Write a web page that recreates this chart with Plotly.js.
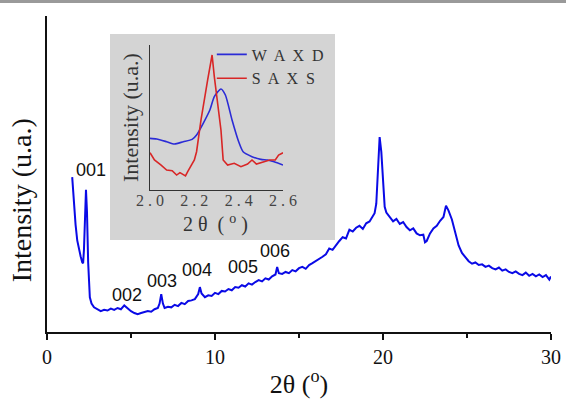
<!DOCTYPE html>
<html>
<head>
<meta charset="utf-8">
<script src="https://cdn.plot.ly/plotly-3.0.1.min.js"></script>
<style>
html,body{margin:0;padding:0;background:#fff;}
#chart{width:566px;height:404px;}
</style>
</head>
<body>
<div id="chart"></div>
<script>
// ---- main XRD pattern (2θ in degrees, intensity in arbitrary units) ----
const twoTheta = [1.5,1.6,1.7,1.8,1.9,2.0,2.1,2.15,2.2,2.25,2.32,2.38,2.45,2.55,2.65,2.8,3.0,3.2,3.4,3.6,3.8,4.0,4.2,4.4,4.6,4.8,5.0,5.2,5.4,5.6,5.8,6.0,6.2,6.4,6.6,6.7,6.8,6.9,7.0,7.2,7.4,7.6,7.8,8.0,8.2,8.4,8.6,8.8,9.0,9.1,9.2,9.4,9.6,9.8,10.0,10.2,10.4,10.6,10.8,11.0,11.2,11.4,11.6,11.8,12.0,12.2,12.4,12.6,12.8,13.0,13.2,13.4,13.6,13.7,13.8,14.0,14.2,14.4,14.6,14.8,15.0,15.2,15.4,15.6,15.8,16.0,16.2,16.4,16.6,16.8,17.0,17.2,17.4,17.6,17.8,18.0,18.2,18.4,18.6,18.8,19.0,19.2,19.4,19.5,19.6,19.7,19.8,19.9,20.0,20.1,20.2,20.4,20.6,20.8,21.0,21.2,21.4,21.6,21.8,22.0,22.2,22.4,22.5,22.6,22.8,23.0,23.2,23.4,23.6,23.75,23.9,24.1,24.3,24.5,24.7,24.9,25.1,25.3,25.5,25.7,25.9,26.1,26.3,26.5,26.7,26.9,27.1,27.3,27.5,27.7,27.9,28.1,28.3,28.5,28.7,28.9,29.1,29.3,29.5,29.7,29.9,30.0];
const intensity = [49,40,34,29,26,24,22,21.8,26,36,45,38,22,11,9,7.8,7.2,6.6,7.0,6.8,7.4,7.0,7.6,7.2,8.4,7.4,6.6,6.0,5.6,6.0,6.2,6.6,6.4,7.2,7.6,9.0,12.0,9.0,7.6,8.0,7.8,8.6,8.2,9.2,8.8,9.8,10.0,10.4,12.0,14.2,12.2,11.0,11.6,11.4,12.4,12.0,13.0,12.8,13.6,13.2,14.2,14.0,14.8,14.4,15.4,15.0,15.8,16.4,16.0,17.0,16.6,17.6,18.2,20.6,18.6,18.4,19.0,18.6,19.6,19.2,20.2,20.6,20.0,21.2,21.8,22.4,23.2,23.8,24.6,26.4,26.0,27.6,28.8,30.0,29.6,32.4,31.8,33.0,33.6,32.6,34.4,35.0,36.8,37.6,40.6,52.0,61.7,57.0,46.0,39.6,37.8,36.2,35.0,35.8,34.2,34.8,33.2,32.2,32.8,31.2,30.6,30.8,28.4,28.8,31.2,32.8,33.6,35.2,36.4,40.0,38.4,35.6,31.0,27.4,25.0,23.6,22.4,21.6,22.0,21.2,21.4,20.6,21.0,20.2,19.8,20.4,19.4,19.8,19.0,18.6,19.2,18.4,18.0,18.8,17.8,18.4,17.6,18.2,17.4,18.0,16.6,17.6];

// ---- reflection labels ----
const peakLabels = ["001","002","003","004","005","006"];
const peakLabelX = [2.6,4.76,6.85,8.93,11.67,13.57];
const peakLabelY = [51.3,11.7,16.1,19.6,20.6,25.6];

// ---- inset: WAXD vs SAXS around the 001 reflection ----
const insetWaxdX = [2.0,2.03,2.075,2.11,2.15,2.19,2.21,2.24,2.27,2.29,2.32,2.34,2.37,2.40,2.42,2.46,2.50,2.53,2.56,2.6];
const insetWaxdY = [35.6,35.2,33.3,31.7,33.3,34.9,37.9,46.0,55.2,64.4,69.7,65.5,48.3,33.3,26.4,23.0,21.1,20.7,19.5,17.2];
const insetSaxsX = [2.0,2.02,2.05,2.075,2.10,2.12,2.135,2.16,2.17,2.20,2.21,2.23,2.26,2.28,2.29,2.32,2.33,2.35,2.38,2.41,2.44,2.46,2.48,2.51,2.54,2.565,2.58,2.6];
const insetSaxsY = [25.7,20.7,17.2,13.8,13.3,10.3,12.0,9.7,12.6,20.7,26.4,48.3,75.9,93.1,78.2,41.4,20.7,17.2,18.4,16.1,17.9,20.7,17.9,19.5,20.7,20.7,24.1,25.7];
const insetTickVals = [2.0,2.2,2.4,2.6];
const insetTickText = ["2 . 0","2 . 2","2 . 4","2 . 6"];
const seriesNames = ["W  A  X  D","S  A  X  S"];

const serif = "Liberation Serif";
const sans = "Liberation Sans";

const traces = [
  {x: twoTheta, y: intensity, type: "scatter", mode: "lines", xaxis: "x", yaxis: "y",
   line: {color: "#0a0ae6", width: 2}, showlegend: false, hoverinfo: "skip"},
  {x: insetWaxdX, y: insetWaxdY, type: "scatter", mode: "lines", xaxis: "x2", yaxis: "y2",
   name: seriesNames[0], line: {color: "#2b2bd6", width: 1.6, shape: "spline", smoothing: 0.6}},
  {x: insetSaxsX, y: insetSaxsY, type: "scatter", mode: "lines", xaxis: "x2", yaxis: "y2",
   name: seriesNames[1], line: {color: "#d82626", width: 1.6}}
];

const annotations = peakLabels.map((t, i) => ({
  x: peakLabelX[i], y: peakLabelY[i], xref: "x", yref: "y", text: t, showarrow: false,
  font: {family: sans, size: 18, color: "#111"}
}));
// main y-axis title (sits below the axis centre in the reference)
annotations.push({x: -0.05, y: 0.416, xref: "paper", yref: "paper", xanchor: "center", yanchor: "middle",
  text: "Intensity (u.a.)", textangle: -90, showarrow: false,
  font: {family: serif, size: 28, color: "#111"}});
// inset x-axis title
annotations.push({x: 0.335, y: 0.343, xref: "paper", yref: "paper", xanchor: "center", yanchor: "middle",
  text: "2 θ  ( <sup>o</sup> )", showarrow: false,
  font: {family: serif, size: 20, color: "#333"}});

const layout = {
  width: 566, height: 404,
  margin: {l: 47, r: 15, t: 16, b: 72},
  paper_bgcolor: "#ffffff",
  plot_bgcolor: "rgba(0,0,0,0)",
  showlegend: true,
  legend: {x: 0.327, y: 0.932, xanchor: "left", yanchor: "top", bgcolor: "rgba(0,0,0,0)",
           font: {family: serif, size: 16, color: "#333"}, itemwidth: 30, tracegroupgap: 0},
  xaxis: {domain: [0, 1], range: [0, 30], tickvals: [0, 10, 20, 30], ticks: "outside", ticklen: 6, tickwidth: 2,
          tickcolor: "#111", showline: true, linecolor: "#111", linewidth: 2, showgrid: false, zeroline: false,
          minor: {tickvals: [5, 15, 25], ticks: "outside", ticklen: 4, tickwidth: 2, tickcolor: "#111", showgrid: false},
          tickfont: {family: serif, size: 20, color: "#111"},
          title: {text: "2θ (<sup>o</sup>)", font: {family: serif, size: 26, color: "#111"}, standoff: 8},
          anchor: "y", fixedrange: true},
  yaxis: {domain: [0, 1], range: [0, 100], showticklabels: false, ticks: "", showline: true, linecolor: "#111",
          linewidth: 2, showgrid: false, zeroline: false, anchor: "x", fixedrange: true},
  xaxis2: {domain: [0.2044, 0.4683], range: [2.0, 2.6], anchor: "y2", showline: true, linecolor: "#333",
           linewidth: 1.5, showgrid: false, zeroline: false, ticks: "", tickvals: insetTickVals, ticktext: insetTickText,
           ticklabelstandoff: -5,
           tickfont: {family: serif, size: 16, color: "#444"},
           fixedrange: true},
  yaxis2: {domain: [0.4494, 0.9082], range: [0, 100], anchor: "x2", showline: true, linecolor: "#333",
           linewidth: 1.5, showgrid: false, zeroline: false, showticklabels: false, ticks: "",
           title: {text: "Intensity (u.a.)", font: {family: serif, size: 22, color: "#333"}, standoff: 4},
           fixedrange: true},
  shapes: [
    {type: "rect", xref: "paper", yref: "paper", x0: 0.125, x1: 0.5714, y0: 0.2911, y1: 0.943,
     fillcolor: "#d4d4d4", line: {width: 0}, layer: "below"},
    {type: "rect", xref: "paper", yref: "paper", x0: -0.1, x1: 1.04, y0: 1.0411, y1: 1.06,
     fillcolor: "#9a9a9a", line: {width: 0}, layer: "below"}
  ],
  annotations: annotations
};

Plotly.newPlot("chart", traces, layout, {staticPlot: true, displayModeBar: false});
</script>
</body>
</html>
